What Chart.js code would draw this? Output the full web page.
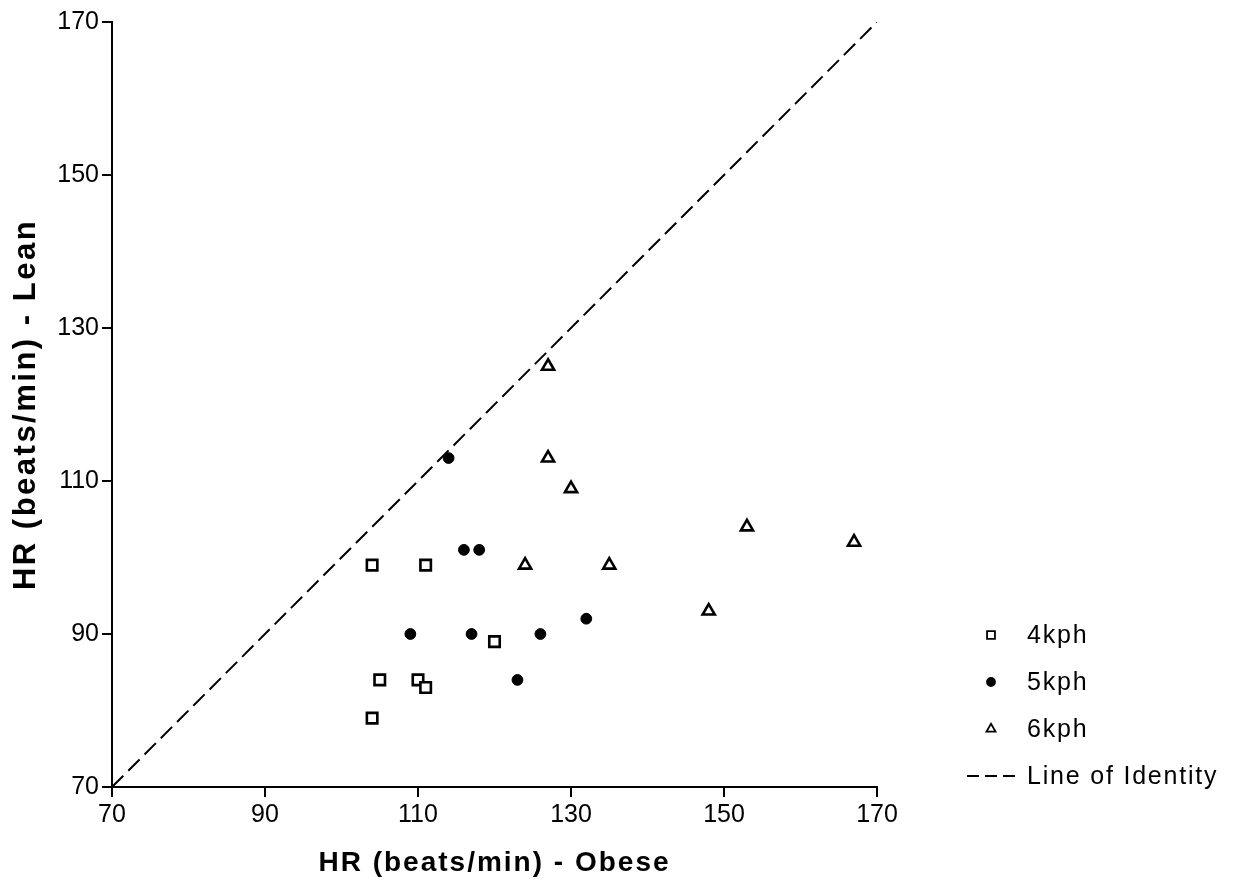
<!DOCTYPE html>
<html>
<head>
<meta charset="utf-8">
<script src="https://cdn.jsdelivr.net/npm/chart.js@4/dist/chart.umd.min.js"></script>
<style>
  html, body { margin: 0; padding: 0; background: #fff; }
  #wrap { width: 1242px; height: 887px; }
</style>
</head>
<body>
<div id="wrap"><canvas id="c" width="1242" height="887"></canvas></div>
<script>
// Heart rate pairs: x = obese subject, y = matched lean subject (beats/min)
const obese4 = [104, 111, 120, 105, 110, 111, 104];
const lean4  = [99, 99, 89, 84, 84, 83, 79];

const obese5 = [114, 116, 118, 109, 117, 126, 132, 123];
const lean5  = [113, 101, 101, 90, 90, 90, 92, 84];

const obese6 = [127, 127, 130, 124, 135, 153, 167, 148];
const lean6  = [125, 113, 109, 99, 99, 104, 102, 93];

const identityLine = [70, 170];

const seriesLabels = ['4kph', '5kph', '6kph', 'Line of Identity'];
const xTicks = [70, 90, 110, 130, 150, 170];
const yTicks = [70, 90, 110, 130, 150, 170];

const pairs = (xs, ys) => xs.map((x, i) => ({ x: x, y: ys[i] }));

const FONT = '"Liberation Sans", Arial, Helvetica, sans-serif';

// Wider tracking for the axis titles (Chart.js has no letter-spacing option)
const titleSpacing = { x: '2px', y: '2.5px' };
const spacedTitles = {
  id: 'spacedTitles',
  beforeDraw(chart) {
    Object.keys(titleSpacing).forEach(id => {
      const scale = chart.scales[id];
      if (!scale || scale._spacedTitle) return;
      const orig = scale.drawTitle.bind(scale);
      scale.drawTitle = function () {
        const ctx = chart.ctx;
        ctx.save();
        ctx.letterSpacing = titleSpacing[id];
        orig();
        ctx.restore();
      };
      scale._spacedTitle = true;
    });
  }
};

// Legend drawn beside the plot, bottom-aligned with the x axis
const sideLegend = {
  id: 'sideLegend',
  afterDraw(chart) {
    const ctx = chart.ctx;
    const area = chart.chartArea;
    const markX = area.right + 114;
    const textX = area.right + 150;
    const y0 = area.bottom - 152;
    const step = 47;
    ctx.save();
    ctx.font = '25px ' + FONT;
    ctx.letterSpacing = '1.8px';
    ctx.textBaseline = 'middle';
    chart.data.datasets.forEach((ds, i) => {
      const y = y0 + i * step;
      ctx.strokeStyle = '#000';
      if (ds.type === 'line') {
        ctx.lineWidth = 2;
        ctx.setLineDash([12, 6]);
        ctx.beginPath();
        ctx.moveTo(area.right + 90, y);
        ctx.lineTo(area.right + 140, y);
        ctx.stroke();
        ctx.setLineDash([]);
      } else {
        ctx.fillStyle = ds.pointBackgroundColor;
        ctx.lineWidth = 1.8;
        Chart.helpers.drawPoint(ctx, {
          pointStyle: ds.pointStyle,
          radius: ds.legendRadius,
          borderWidth: 1.8
        }, markX, y);
      }
      ctx.fillStyle = '#000';
      ctx.fillText(ds.label, textX, y + 1);
    });
    ctx.restore();
  }
};

new Chart(document.getElementById('c'), {
  type: 'scatter',
  data: {
    datasets: [
      {
        label: seriesLabels[0],
        data: pairs(obese4, lean4),
        pointStyle: 'rect',
        pointRadius: 7.4,
        pointHoverRadius: 7.4,
        pointBorderWidth: 2.6,
        pointBorderColor: '#000',
        pointBackgroundColor: '#fff',
        legendRadius: 5.6
      },
      {
        label: seriesLabels[1],
        data: pairs(obese5, lean5),
        pointStyle: 'circle',
        pointRadius: 5.4,
        pointHoverRadius: 5.4,
        pointBorderWidth: 1,
        pointBorderColor: '#000',
        pointBackgroundColor: '#000',
        legendRadius: 4
      },
      {
        label: seriesLabels[2],
        data: pairs(obese6, lean6),
        pointStyle: 'triangle',
        pointRadius: 7,
        pointHoverRadius: 7,
        pointBorderWidth: 2.6,
        pointBorderColor: '#000',
        pointBackgroundColor: '#fff',
        legendRadius: 5.2
      },
      {
        type: 'line',
        label: seriesLabels[3],
        data: pairs(identityLine, identityLine),
        borderColor: '#000',
        borderWidth: 2,
        borderDash: [16, 7],
        pointRadius: 0,
        fill: false
      }
    ]
  },
  options: {
    responsive: false,
    animation: false,
    devicePixelRatio: 1,
    layout: { padding: { top: 22, right: 365, bottom: 0, left: 0 } },
    plugins: {
      legend: { display: false },
      tooltip: { enabled: false }
    },
    scales: {
      x: {
        type: 'linear',
        min: 70,
        max: 170,
        afterBuildTicks(scale) { scale.ticks = xTicks.map(v => ({ value: v })); },
        afterFit(scale) { scale.height = 100; },
        border: { display: true, color: '#000', width: 2 },
        grid: { drawOnChartArea: false, drawTicks: true, tickLength: 10, color: '#000', lineWidth: 2 },
        ticks: { color: '#000', font: { family: FONT, size: 25 }, padding: 3, maxRotation: 0 },
        title: {
          display: true,
          text: 'HR (beats/min) - Obese',
          color: '#000',
          font: { family: FONT, size: 28, weight: 'bold' },
          padding: { top: 0, bottom: 7 }
        }
      },
      y: {
        type: 'linear',
        min: 70,
        max: 170,
        afterBuildTicks(scale) { scale.ticks = yTicks.map(v => ({ value: v })); },
        afterFit(scale) { scale.width = 112; },
        border: { display: true, color: '#000', width: 2 },
        grid: { drawOnChartArea: false, drawTicks: true, tickLength: 10, color: '#000', lineWidth: 2 },
        ticks: { color: '#000', font: { family: FONT, size: 25 }, padding: 3 },
        title: {
          display: true,
          text: 'HR (beats/min) - Lean',
          color: '#000',
          font: { family: FONT, size: 31, weight: 'bold' },
          padding: { top: 8, bottom: 0 }
        }
      }
    }
  },
  plugins: [spacedTitles, sideLegend]
});
</script>
</body>
</html>
